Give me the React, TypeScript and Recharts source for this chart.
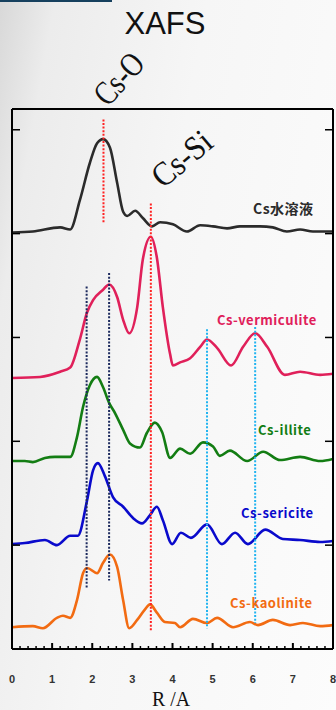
import { LineChart, Line, XAxis, YAxis } from "recharts";

// radial distance grid (Å)
const rAll = Array.from({ length: 41 }, (_, i) => i / 5);
const yTicks = [0, 1, 2, 3, 4, 5];

// |FT| curves, stacked with vertical offsets
const aqueous = [
  { r: 0, v: 4.01 }, { r: 0.52, v: 4.02 }, { r: 1.2, v: 4.06 }, { r: 1.45, v: 4.04 },
  { r: 1.69, v: 4.32 }, { r: 1.94, v: 4.68 }, { r: 2.12, v: 4.87 }, { r: 2.27, v: 4.91 },
  { r: 2.44, v: 4.83 }, { r: 2.62, v: 4.49 }, { r: 2.77, v: 4.21 }, { r: 2.87, v: 4.17 },
  { r: 3.07, v: 4.22 }, { r: 3.26, v: 4.15 }, { r: 3.49, v: 4.07 }, { r: 3.69, v: 4.11 },
  { r: 4.01, v: 4.09 }, { r: 4.36, v: 4.02 }, { r: 4.69, v: 4.08 }, { r: 5.01, v: 4.07 },
  { r: 5.36, v: 4.05 }, { r: 5.68, v: 4.07 }, { r: 6.18, v: 4.07 }, { r: 6.5, v: 4.06 },
  { r: 6.85, v: 4.02 }, { r: 7.18, v: 4.04 }, { r: 7.5, v: 4.02 }, { r: 8, v: 4.02 },
];

const vermiculite = [
  { r: 0, v: 2.61 }, { r: 0.7, v: 2.62 }, { r: 1.2, v: 2.67 }, { r: 1.45, v: 2.71 },
  { r: 1.69, v: 2.98 }, { r: 1.87, v: 3.24 }, { r: 2.02, v: 3.36 }, { r: 2.27, v: 3.46 },
  { r: 2.42, v: 3.51 }, { r: 2.62, v: 3.39 }, { r: 2.77, v: 3.17 }, { r: 2.92, v: 3.04 },
  { r: 3.12, v: 3.29 }, { r: 3.26, v: 3.75 }, { r: 3.46, v: 3.97 }, { r: 3.61, v: 3.77 },
  { r: 3.76, v: 3.29 }, { r: 3.94, v: 2.84 }, { r: 4.01, v: 2.73 }, { r: 4.19, v: 2.76 },
  { r: 4.44, v: 2.8 }, { r: 4.69, v: 2.91 }, { r: 4.86, v: 2.98 }, { r: 5.11, v: 2.9 },
  { r: 5.46, v: 2.73 }, { r: 5.76, v: 2.91 }, { r: 6.06, v: 3.04 }, { r: 6.36, v: 2.91 },
  { r: 6.8, v: 2.64 }, { r: 7.18, v: 2.67 }, { r: 7.68, v: 2.64 }, { r: 8, v: 2.65 },
];

const illite = [
  { r: 0, v: 1.81 }, { r: 0.32, v: 1.81 }, { r: 0.52, v: 1.8 }, { r: 0.82, v: 1.84 },
  { r: 1.07, v: 1.85 }, { r: 1.45, v: 1.85 }, { r: 1.62, v: 2.04 }, { r: 1.77, v: 2.33 },
  { r: 1.94, v: 2.54 }, { r: 2.12, v: 2.62 }, { r: 2.27, v: 2.52 }, { r: 2.42, v: 2.37 },
  { r: 2.57, v: 2.27 }, { r: 2.77, v: 2.11 }, { r: 2.94, v: 1.98 }, { r: 3.19, v: 1.94 },
  { r: 3.36, v: 2.08 }, { r: 3.56, v: 2.18 }, { r: 3.74, v: 2.09 }, { r: 3.94, v: 1.84 },
  { r: 4.19, v: 1.93 }, { r: 4.44, v: 1.88 }, { r: 4.76, v: 1.99 }, { r: 5.01, v: 1.95 },
  { r: 5.18, v: 1.86 }, { r: 5.43, v: 1.91 }, { r: 5.86, v: 1.81 }, { r: 6.26, v: 1.9 },
  { r: 6.68, v: 1.82 }, { r: 7.18, v: 1.85 }, { r: 7.68, v: 1.81 }, { r: 8, v: 1.83 },
];

const sericite = [
  { r: 0, v: 1.01 }, { r: 0.32, v: 1.02 }, { r: 0.82, v: 1.05 }, { r: 1.12, v: 1.0 },
  { r: 1.45, v: 1.09 }, { r: 1.64, v: 1.09 }, { r: 1.87, v: 1.43 }, { r: 2.02, v: 1.72 },
  { r: 2.14, v: 1.79 }, { r: 2.32, v: 1.66 }, { r: 2.52, v: 1.46 }, { r: 2.77, v: 1.37 },
  { r: 3.02, v: 1.26 }, { r: 3.24, v: 1.21 }, { r: 3.44, v: 1.29 }, { r: 3.61, v: 1.37 },
  { r: 3.76, v: 1.24 }, { r: 3.99, v: 1.01 }, { r: 4.21, v: 1.12 }, { r: 4.46, v: 1.07 },
  { r: 4.86, v: 1.2 }, { r: 5.23, v: 1.01 }, { r: 5.56, v: 1.12 }, { r: 5.88, v: 1.01 },
  { r: 6.31, v: 1.15 }, { r: 6.75, v: 1.06 }, { r: 7.18, v: 1.05 }, { r: 7.68, v: 1.03 },
  { r: 8, v: 1.04 },
];

const kaolinite = [
  { r: 0, v: 0.21 }, { r: 0.52, v: 0.22 }, { r: 0.77, v: 0.2 }, { r: 1.12, v: 0.3 },
  { r: 1.27, v: 0.32 }, { r: 1.45, v: 0.3 }, { r: 1.62, v: 0.47 }, { r: 1.77, v: 0.73 },
  { r: 1.87, v: 0.78 }, { r: 2.12, v: 0.73 }, { r: 2.27, v: 0.83 }, { r: 2.44, v: 0.91 },
  { r: 2.62, v: 0.79 }, { r: 2.77, v: 0.47 }, { r: 2.92, v: 0.2 }, { r: 3.12, v: 0.28 },
  { r: 3.31, v: 0.38 }, { r: 3.44, v: 0.43 }, { r: 3.61, v: 0.35 }, { r: 3.81, v: 0.26 },
  { r: 4.06, v: 0.25 }, { r: 4.19, v: 0.21 }, { r: 4.51, v: 0.29 }, { r: 4.86, v: 0.25 },
  { r: 5.11, v: 0.3 }, { r: 5.51, v: 0.21 }, { r: 5.93, v: 0.26 }, { r: 6.13, v: 0.23 },
  { r: 6.5, v: 0.28 }, { r: 6.93, v: 0.23 }, { r: 7.25, v: 0.25 }, { r: 7.68, v: 0.22 },
  { r: 8, v: 0.23 },
];

// dotted guide lines: [r, from, to, colour]
const guides: [number, number, number, string][] = [
  [2.28, 5.1, 4.1, "#ff2222"],
  [3.46, 4.29, 0.18, "#ff2222"],
  [1.86, 3.49, 0.59, "#1c2a5e"],
  [2.42, 3.62, 0.66, "#1c2a5e"],
  [4.86, 3.08, 0.2, "#22b4f0"],
  [6.06, 3.1, 0.25, "#22b4f0"],
];

const seriesList = [
  { name: "Cs水溶液", data: aqueous, color: "#2b2b2b", left: 253, y: 208, size: 14 },
  { name: "Cs-vermiculite", data: vermiculite, color: "#e0205a", left: 217, y: 320, size: 13 },
  { name: "Cs-illite", data: illite, color: "#137d13", left: 258, y: 430, size: 13 },
  { name: "Cs-sericite", data: sericite, color: "#0a0acc", left: 241, y: 513, size: 13 },
  { name: "Cs-kaolinite", data: kaolinite, color: "#f26b12", left: 230, y: 603, size: 13 },
];

const isMajor = (v: number) => Math.abs(v - Math.round(v)) < 1e-6;

function BottomTick({ x, y, payload }: any) {
  const major = isMajor(payload.value);
  return (
    <g>
      <line x1={x} x2={x} y1={y} y2={y - (major ? 6 : 3)} stroke="#000" strokeWidth={major ? 2 : 1.5} />
      {major && (
        <text x={x} y={y + 34} textAnchor="middle" fontSize={11} fontWeight={600}
          fontFamily="Arial, 'Liberation Sans', sans-serif" fill="#333">
          {Math.round(payload.value)}
        </text>
      )}
    </g>
  );
}

function TopTick({ x, y, payload }: any) {
  const major = isMajor(payload.value);
  return <line x1={x} x2={x} y1={y} y2={y + (major ? 6 : 3)} stroke="#000" strokeWidth={major ? 2 : 1.5} />;
}

function LeftTick({ x, y }: any) {
  return <line x1={x} x2={x + 8} y1={y} y2={y} stroke="#000" strokeWidth={1.5} />;
}

function RightTick({ x, y }: any) {
  return <line x1={x} x2={x - 8} y1={y} y2={y} stroke="#000" strokeWidth={1.5} />;
}

const boxLine = { stroke: "#000", strokeWidth: 2 };
const serif = "'Liberation Serif', 'DejaVu Serif', serif";

export default function App() {
  return (
    <div
      style={{
        position: "fixed",
        left: 0,
        top: 0,
        width: 336,
        height: 710,
        overflow: "hidden",
        background: "linear-gradient(100deg, #d8d8d8 0%, #ececec 12%, #f6f6f6 45%, #fcfcfc 100%)",
      }}
    >
      <div style={{ position: "absolute", left: 0, top: 0, width: 112, height: 2, background: "#16405e" }} />
      <div
        style={{
          position: "absolute", left: 0, width: 336, top: 6, textAlign: "center",
          fontFamily: "Arial, 'Liberation Sans', sans-serif", fontSize: 31, color: "#111",
          textIndent: -6,
        }}
      >
        XAFS
      </div>

      <LineChart width={336} height={710} margin={{ top: 0, right: 0, bottom: 0, left: 0 }}>
        <XAxis dataKey="r" type="number" domain={[0, 8]} allowDataOverflow ticks={rAll} interval={0}
          height={61} tickSize={0} tickMargin={0} tickLine={false} axisLine={boxLine} tick={<BottomTick />} />
        <XAxis xAxisId="top" orientation="top" type="number" domain={[0, 8]} allowDataOverflow ticks={rAll}
          interval={0} height={109} tickSize={0} tickMargin={0} tickLine={false} axisLine={boxLine} tick={<TopTick />} />
        <YAxis type="number" domain={[0, 5.2]} allowDataOverflow ticks={yTicks} interval={0} width={12}
          tickSize={0} tickMargin={0} tickLine={false} axisLine={boxLine} tick={<LeftTick />} />
        <YAxis yAxisId="right" orientation="right" type="number" domain={[0, 5.2]} allowDataOverflow ticks={yTicks}
          interval={0} width={3} tickSize={0} tickMargin={0} tickLine={false} axisLine={boxLine} tick={<RightTick />} />

        {seriesList.map((s) => (
          <Line key={s.name} data={s.data} dataKey="v" type="monotone" stroke={s.color} strokeWidth={2.6}
            dot={false} activeDot={false} isAnimationActive={false} />
        ))}

        {guides.map(([r, a, b, c], i) => (
          <Line key={"g" + i} data={[{ r, v: a }, { r, v: b }]} dataKey="v" type="linear" stroke={c}
            strokeWidth={2} strokeDasharray="2 1.6" dot={false} activeDot={false} isAnimationActive={false} />
        ))}
      </LineChart>

      {seriesList.map((s) => (
        <div
          key={s.name}
          style={{
            position: "absolute", left: s.left, top: s.y - 8, lineHeight: "16px",
            fontFamily: "'Noto Sans CJK JP', 'Noto Sans', sans-serif", fontWeight: 700,
            fontSize: s.size, letterSpacing: 0.5, color: s.color, whiteSpace: "nowrap",
          }}
        >
          {s.name}
        </div>
      ))}

      <div style={{ position: "absolute", left: 119, top: 79, lineHeight: "34px",
        transform: "translate(-50%, -50%) rotate(-48deg) scaleX(0.8)",
        fontFamily: serif, fontSize: 34, color: "#111", whiteSpace: "nowrap" }}>
        Cs-O
      </div>
      <div style={{ position: "absolute", left: 182, top: 159, lineHeight: "34px",
        transform: "translate(-50%, -50%) rotate(-40deg) scaleX(0.9)",
        fontFamily: serif, fontSize: 34, color: "#111", whiteSpace: "nowrap" }}>
        Cs-Si
      </div>
      <div style={{ position: "absolute", left: 0, width: 342, top: 689, lineHeight: "20px", textAlign: "center",
        fontFamily: serif, fontSize: 22, color: "#111", whiteSpace: "pre",
        transform: "scaleX(0.9)" }}>
        {"R /A"}
      </div>
    </div>
  );
}
